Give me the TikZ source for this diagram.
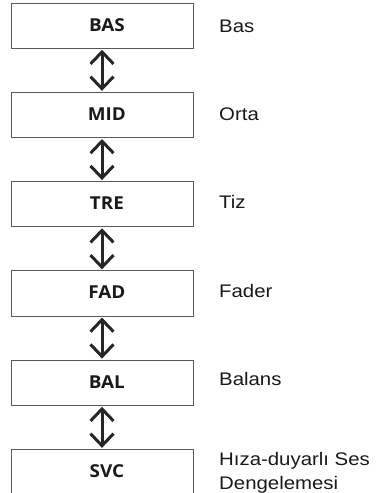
\documentclass[tikz,border=0pt]{standalone}
\usepackage{fontspec}
\setmainfont[FakeStretch=1.12]{Liberation Sans}
\newfontfamily\boxfont[FakeStretch=1.06]{Open Sans}
\usetikzlibrary{arrows.meta}
\begin{document}
\begin{tikzpicture}[x=1pt,y=-1pt,
  stage/.style={draw=black!65,line width=0.9pt,minimum width=181.6pt,minimum height=45.3pt,
    inner sep=0pt,font=\boxfont\bfseries\fontsize{17.8}{20}\selectfont,text=black!90,
    text height=12.7pt,text depth=0pt},
  desc/.style={anchor=base west,inner sep=0pt,font=\fontsize{18.2}{24}\selectfont,text=black!90,align=left},
  link/.style={{Straight Barb[length=12pt,width=23pt]}-{Straight Barb[length=12pt,width=23pt]},
    line width=3pt,draw=black!85,shorten <=1pt,shorten >=1pt}]
\useasboundingbox (0,0) rectangle (376,493);
\clip (0,0) rectangle (376,493);
\foreach \i/\t in {0/BAS,1/MID,2/TRE,3/FAD,4/BAL,5/SVC}{
  \node[stage] (b\i) at (102.4,{25.65+89.26*\i}) {\hspace*{9pt}\raisebox{1pt}{\t}};
}
\node[desc] (l0) at (219,32.7) {Bas};
\node[desc] (l1) at (219,120.5) {Orta};
\node[desc] (l2) at (219,208.8) {Tiz};
\node[desc] (l3) at (219,297.5) {Fader};
\node[desc] (l4) at (219,385.5) {Balans};
\node[desc] (l5) at (219,489) {H\i za-duyarl\i\ Ses\\Dengelemesi};
\foreach \i [evaluate=\i as \j using int(\i+1)] in {0,...,4}{
  \draw[link] (b\i.south -| 102,0) -- (b\j.north -| 102,0);
}
\end{tikzpicture}
\end{document}
